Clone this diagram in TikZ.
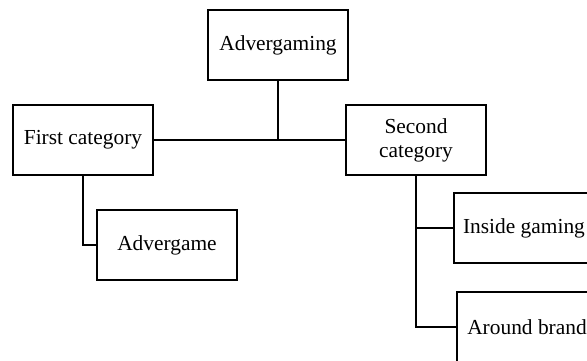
\documentclass[tikz,border=0pt]{standalone}
\usepackage{fontspec}
\setmainfont{Liberation Serif}
\usepackage{tikz}
\usetikzlibrary{positioning}

\begin{document}
\begin{tikzpicture}[
  x=0.5pt, y=-0.5pt,
  box/.style={draw, line width=1pt, minimum width=70pt, minimum height=35pt, inner sep=0pt, align=center, font=\fontsize{10.7}{12}\selectfont},
  link/.style={line width=1pt}
]
  \useasboundingbox (0,0) rectangle (587,360);
  \clip (0,0) rectangle (587,360);

  % Top level
  \node[box] (advgaming) at (278,45) {Advergaming};

  % Categories
  \node[box] (first) at (83,140) {First category};
  \node[box] (second) at (416,140) {Second\\category};

  % Leaves
  \node[box] (advgame) at (167,245) {Advergame};
  \node[box] (inside) at (524,228) {Inside gaming};
  \node[box] (around) at (527,327) {Around brand};

  % Connectors
  \draw[link] (first.east) -- (second.west);
  \draw[link] (advgaming.south) -- (advgaming.south |- first.east);
  \draw[link] (first.south) |- (advgame.west);
  \draw[link] (second.south) |- (inside.west);
  \draw[link] (second.south) |- (around.west);
\end{tikzpicture}
\end{document}
